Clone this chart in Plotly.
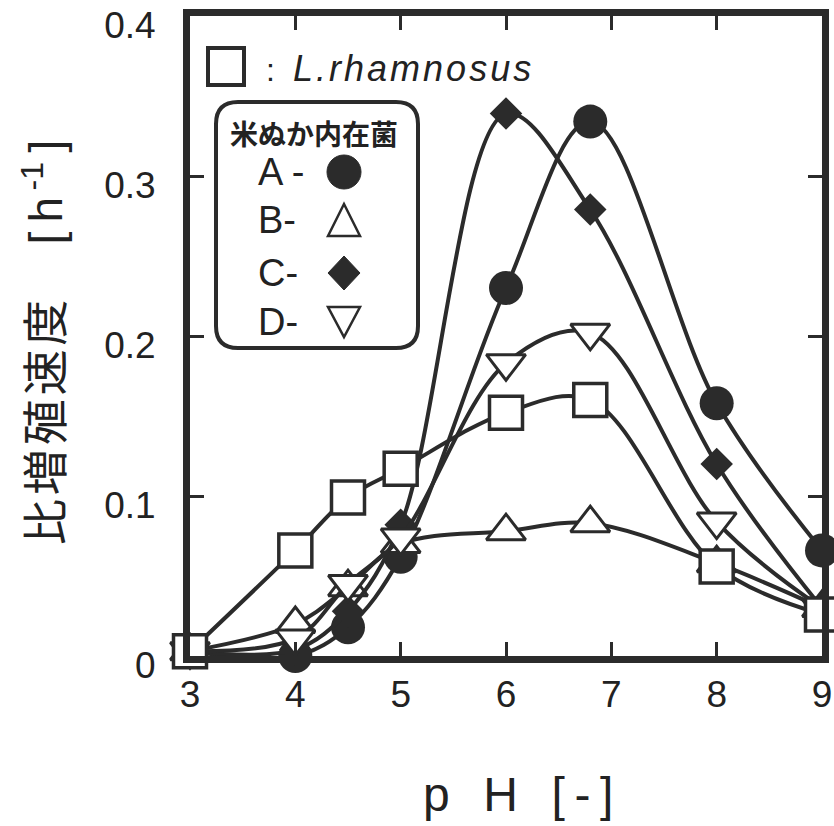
import plotly.graph_objects as go

# ---- data ----
ph = [3, 4, 4.5, 5, 6, 6.8, 8, 9]
L_rhamnosus = [0.003, 0.066, 0.099, 0.117, 0.152, 0.160, 0.056, 0.026]
A = [0.003, 0.000, 0.018, 0.062, 0.230, 0.334, 0.158, 0.066]
B = [0.003, 0.020, 0.043, 0.070, 0.078, 0.083, 0.058, 0.030]
C = [0.003, 0.004, 0.028, 0.082, 0.339, 0.279, 0.120, 0.030]
D = [0.003, 0.011, 0.045, 0.074, 0.183, 0.202, 0.084, 0.030]
x_ticks = [3, 4, 5, 6, 7, 8, 9]
y_ticks = [0, 0.1, 0.2, 0.3, 0.4]
y_ticklabels = ["0", "0.1", "0.2", "0.3", "0.4"]

INK = "#2b2b2b"
TXT = "#222"
W, H = 834, 826
L, R, T, Bm = 190, 822, 16, 656


def px(x):
    return (x - L) / (R - L)


def py(y):
    return (Bm - y) / (Bm - T)


fig = go.Figure()

series = [
    (A, "circle", 34, INK, 0),
    (B, "triangle-up", 34, "white", 3),
    (C, "diamond", 25, INK, 0),
    (D, "triangle-down", 34, "white", 3),
    (L_rhamnosus, "square", 33, "white", 3.5),
]
for ys, sym, size, fill, lw in series:
    fig.add_trace(go.Scatter(
        x=ph, y=ys, mode="lines+markers",
        line=dict(shape="spline", smoothing=1.0, color=INK, width=4),
        marker=dict(symbol=sym, size=size, color=fill,
                    line=dict(color=INK, width=lw)),
        showlegend=False, cliponaxis=False,
    ))

axis_common = dict(
    showline=True, linewidth=7, linecolor=INK, mirror="ticks",
    ticks="inside", ticklen=14, tickwidth=3, tickcolor=INK,
    showgrid=False, zeroline=False, ticklabeloverflow="allow", automargin=False,
    tickfont=dict(family="Liberation Sans, Arial", size=37, color=TXT),
)
fig.update_xaxes(range=[3, 9], tickvals=x_ticks, ticklabelstandoff=0, **axis_common)
fig.update_yaxes(range=[0, 0.4], tickvals=y_ticks, ticktext=y_ticklabels,
                 ticklabelstandoff=20, ticklabelshift=9, **axis_common)

shapes = []
annots = []


def text(t, x, y, size, xanchor="center", family="Liberation Sans, Noto Sans CJK JP", angle=0):
    annots.append(dict(text=t, x=px(x), y=py(y), xref="paper", yref="paper",
                       xanchor=xanchor, yanchor="middle", showarrow=False, textangle=angle,
                       font=dict(family=family, size=size, color=TXT)))


# L.rhamnosus legend entry
shapes.append(dict(type="rect", xref="paper", yref="paper",
                   x0=px(208), x1=px(244), y0=py(85), y1=py(48),
                   line=dict(color=INK, width=4), fillcolor="white"))
text(":", 270, 70, 32)
hs = "\u200a"
text("<i>" + hs.join("L.rhamnosus") + "</i>", 291, 69, 36, xanchor="left")

# rounded box
x0, x1, y0, y1, r = 216, 418, 102, 348, 22
path = (f"M {px(x0 + r)},{py(y0)} L {px(x1 - r)},{py(y0)} Q {px(x1)},{py(y0)} {px(x1)},{py(y0 + r)} "
        f"L {px(x1)},{py(y1 - r)} Q {px(x1)},{py(y1)} {px(x1 - r)},{py(y1)} "
        f"L {px(x0 + r)},{py(y1)} Q {px(x0)},{py(y1)} {px(x0)},{py(y1 - r)} "
        f"L {px(x0)},{py(y0 + r)} Q {px(x0)},{py(y0)} {px(x0 + r)},{py(y0)} Z")
shapes.append(dict(type="path", xref="paper", yref="paper", path=path,
                   line=dict(color=INK, width=4), fillcolor="white", layer="above"))
text("<b>米ぬか内在菌</b>", 314, 133, 28, family="Noto Sans CJK JP")
rows = [("A -", 172), ("B-", 220), ("C-", 273), ("D-", 322)]
for label, yy in rows:
    text(label, 256, yy, 38, xanchor="left")
cx = 344
shapes.append(dict(type="circle", xref="paper", yref="paper",
                   x0=px(cx - 17), x1=px(cx + 17), y0=py(189), y1=py(155),
                   line=dict(color=INK, width=1), fillcolor=INK, layer="above"))
shapes.append(dict(type="path", xref="paper", yref="paper",
                   path=f"M {px(cx)},{py(204)} L {px(cx + 16)},{py(236)} L {px(cx - 16)},{py(236)} Z",
                   line=dict(color=INK, width=2.5), fillcolor="white", layer="above"))
shapes.append(dict(type="path", xref="paper", yref="paper",
                   path=f"M {px(cx)},{py(256)} L {px(cx + 16)},{py(273)} L {px(cx)},{py(290)} L {px(cx - 16)},{py(273)} Z",
                   line=dict(color=INK, width=1), fillcolor=INK, layer="above"))
shapes.append(dict(type="path", xref="paper", yref="paper",
                   path=f"M {px(cx - 16)},{py(307)} L {px(cx + 16)},{py(307)} L {px(cx)},{py(337)} Z",
                   line=dict(color=INK, width=2.5), fillcolor="white", layer="above"))

# axis titles
ytitle = hs.join("比増殖速度") + "\u2003\u2009[\u2009h<sup>\u2009-1</sup>\u2009]"
text(ytitle, 43, 343, 46, angle=-90)
text("p\u2002\u2009H\u2002\u2009[\u2009-\u2009]", 518, 794, 48, family="Liberation Sans")

fig.update_layout(
    width=W, height=H,
    margin=dict(l=L, r=W - R, t=T, b=H - Bm),
    paper_bgcolor="white", plot_bgcolor="white",
    shapes=shapes, annotations=annots,
)

fig.write_html("out.html")
